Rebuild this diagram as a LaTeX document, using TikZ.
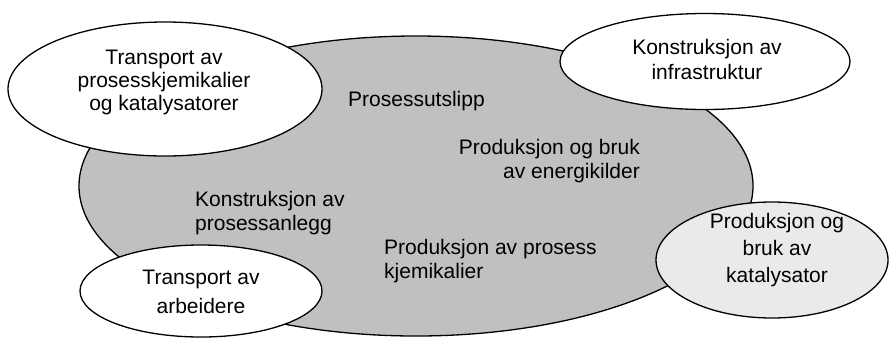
\documentclass[tikz,border=0pt]{standalone}
\usepackage{fontspec}
\setmainfont{Liberation Sans}
\begin{document}
\begin{tikzpicture}[x=1pt,y=-1pt,
  oval/.style={draw=black,line width=1.3pt},
  lbl/.style={inner sep=0pt,anchor=base,font=\fontsize{21}{24}\selectfont}]
\useasboundingbox (0,0) rectangle (890,338);
% central life-cycle area
\path[oval,fill={rgb,255:red,192;green,192;blue,192}] (416,186) coordinate (core) ellipse [x radius=337pt,y radius=150pt];
% surrounding activities
\path[oval,fill=white] (165,89) coordinate (tl) ellipse [x radius=157pt,y radius=67pt];
\path[oval,fill=white] (705,61.5) coordinate (tr) ellipse [x radius=145pt,y radius=48pt];
\path[oval,fill=white] (201,291) coordinate (bl) ellipse [x radius=121pt,y radius=46pt];
\path[oval,fill={rgb,255:red,234;green,234;blue,234}] (772,260) coordinate (br) ellipse [x radius=116pt,y radius=58pt];
% labels inside the core (anchored on the baseline of the last line)
\node[lbl,anchor=base west] (utslipp) at (348,106) {Prosessutslipp};
\node[lbl,anchor=base east,align=right] (energi) at (640,178) {Produksjon og bruk\\av energikilder};
\node[lbl,anchor=base west,align=left] (anlegg) at (195,230) {Konstruksjon av\\prosessanlegg};
\node[lbl,anchor=base west,align=left] (kjem) at (384,278) {Produksjon av prosess\\kjemikalier};
% labels of the outer ovals
\node[lbl,align=center,font=\fontsize{21}{23}\selectfont] (tltext) at (164,110) {Transport av\\prosesskjemikalier\\og katalysatorer};
\node[lbl,align=center,font=\fontsize{21}{25}\selectfont] (trtext) at (707,79) {Konstruksjon av\\infrastruktur};
\node[lbl,align=center,font=\fontsize{21}{29}\selectfont] (bltext) at (201,313) {Transport av\\arbeidere};
\node[lbl,align=center,font=\fontsize{21}{27}\selectfont] (brtext) at (777,282) {Produksjon og\\bruk av\\katalysator};
\end{tikzpicture}
\end{document}
